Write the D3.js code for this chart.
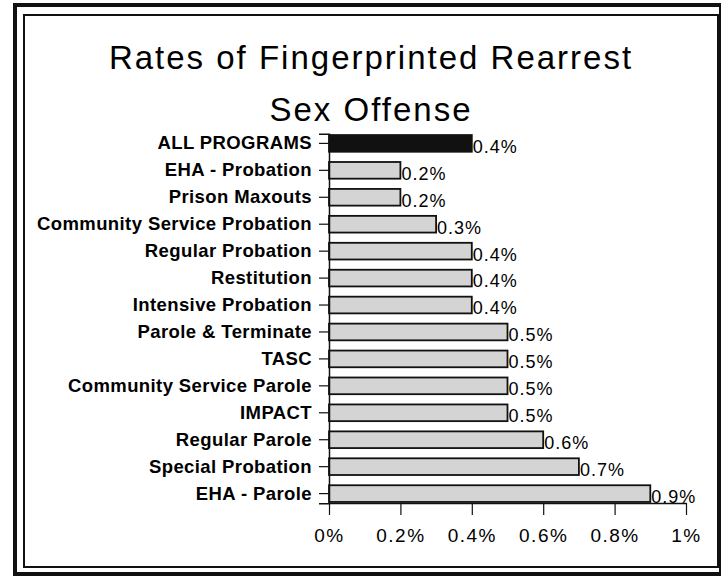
<!DOCTYPE html>
<html>
<head>
<meta charset="utf-8">
<script src="https://cdn.jsdelivr.net/npm/d3@7"></script>
<style>
  html, body { margin: 0; padding: 0; background: #fff; }
  svg { display: block; }
  text { font-family: "Liberation Sans", Arial, sans-serif; fill: #000; }
</style>
</head>
<body>
<svg id="chart" width="721" height="576"></svg>
<script>
// Programs, top to bottom
const programs = [
  "ALL PROGRAMS",
  "EHA - Probation",
  "Prison Maxouts",
  "Community Service Probation",
  "Regular Probation",
  "Restitution",
  "Intensive Probation",
  "Parole & Terminate",
  "TASC",
  "Community Service Parole",
  "IMPACT",
  "Regular Parole",
  "Special Probation",
  "EHA - Parole"
];

// Rearrest rate, in percent
const rates = [0.4, 0.2, 0.2, 0.3, 0.4, 0.4, 0.4, 0.5, 0.5, 0.5, 0.5, 0.6, 0.7, 0.9];

// X axis ticks (percent) and their labels
const tickValues = [0, 0.2, 0.4, 0.6, 0.8, 1];
const tickLabels = ["0%", "0.2%", "0.4%", "0.6%", "0.8%", "1%"];

const titleLines = ["Rates of Fingerprinted Rearrest", "Sex Offense"];

const svg = d3.select("#chart");

// double frame
svg.append("rect")
  .attr("x", 15).attr("y", 5).attr("width", 706).attr("height", 569)
  .attr("fill", "none").attr("stroke", "#111").attr("stroke-width", 4);
svg.append("rect")
  .attr("x", 24).attr("y", 15).attr("width", 694).attr("height", 552)
  .attr("fill", "none").attr("stroke", "#111").attr("stroke-width", 2);

// title
svg.selectAll("text.title")
  .data(titleLines)
  .join("text")
  .attr("class", "title")
  .attr("x", 371)
  .attr("y", (d, i) => 69 + i * 52)
  .attr("text-anchor", "middle")
  .style("font-size", "33px")
  .style("letter-spacing", "2px")
  .text(d => d);

const x = d3.scaleLinear().domain([0, 1]).range([329, 686]);
const y = d3.scaleBand()
  .domain(programs)
  .range([133.7, 503.3])
  .paddingInner(0.38)
  .paddingOuter(0.05);

// bars
svg.append("g")
  .selectAll("rect")
  .data(programs)
  .join("rect")
  .attr("x", x(0))
  .attr("y", d => y(d))
  .attr("width", (d, i) => x(rates[i]) - x(0))
  .attr("height", y.bandwidth())
  .attr("fill", (d, i) => i === 0 ? "#111" : "#d4d4d4")
  .attr("stroke", "#111")
  .attr("stroke-width", 1.8);

// value labels
svg.append("g")
  .selectAll("text")
  .data(programs)
  .join("text")
  .attr("x", (d, i) => x(rates[i]) + 1)
  .attr("y", d => y(d) + y.bandwidth() + 1)
  .style("font-size", "18px")
  .style("letter-spacing", "1px")
  .text((d, i) => rates[i].toFixed(1) + "%");

// y axis
const yAxis = svg.append("g")
  .attr("transform", `translate(${x(0)},0)`)
  .call(d3.axisLeft(y).tickSize(10).tickPadding(7));
yAxis.select(".domain").attr("stroke", "#111").attr("stroke-width", 1.5);
yAxis.selectAll(".tick line").attr("stroke", "#111").attr("stroke-width", 1.2);
yAxis.selectAll(".tick text")
  .style("font-family", '"Liberation Sans", Arial, sans-serif')
  .style("font-size", "18.5px")
  .style("font-weight", "bold")
  .style("letter-spacing", "0.4px")
  .attr("fill", "#111");

// x axis
const xAxis = svg.append("g")
  .attr("transform", "translate(0,503)")
  .call(d3.axisBottom(x)
    .tickValues(tickValues)
    .tickFormat((d, i) => tickLabels[i])
    .tickSize(12)
    .tickSizeOuter(0)
    .tickPadding(14));
xAxis.select(".domain").attr("stroke", "#111").attr("stroke-width", 1.5);
xAxis.selectAll(".tick line").attr("stroke", "#111").attr("stroke-width", 1.2);
xAxis.selectAll(".tick text")
  .style("font-family", '"Liberation Sans", Arial, sans-serif')
  .style("font-size", "19px")
  .style("letter-spacing", "1.5px")
  .attr("fill", "#111");
</script>
</body>
</html>
